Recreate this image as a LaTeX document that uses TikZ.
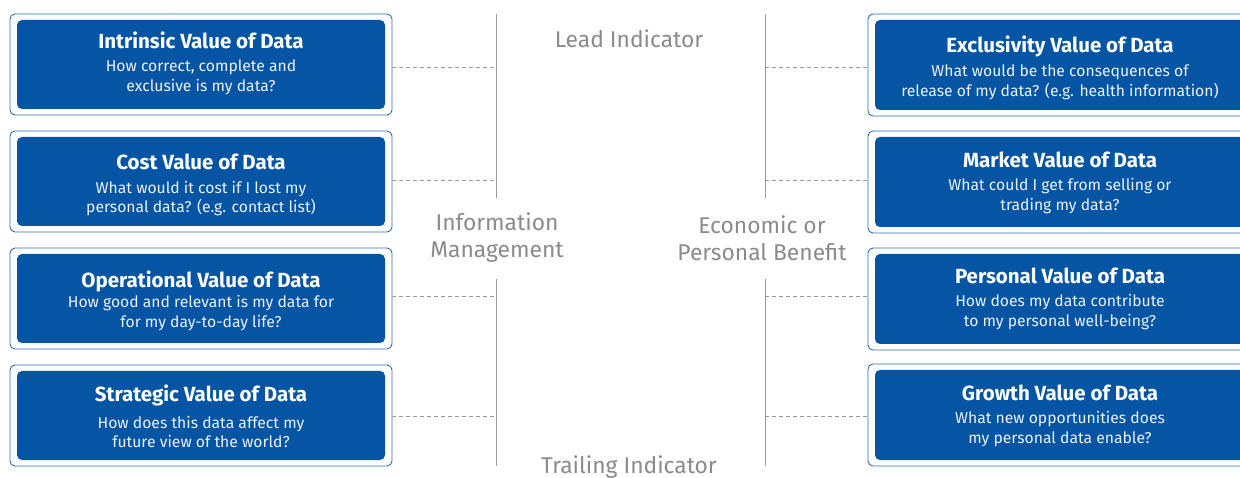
\documentclass[tikz,border=0pt]{standalone}
\usepackage{fontspec}
\setmainfont{Fira Sans}
\definecolor{boxblue}{HTML}{0654A4}
\definecolor{edgeblue}{HTML}{2E6BB6}
\definecolor{labgray}{HTML}{8A8A8F}
\definecolor{linegray}{HTML}{9A9A9A}
\begin{document}
\begin{tikzpicture}[x=1pt,y=-1pt,
  outerbox/.style={draw=edgeblue,line width=0.9pt,rounded corners=5pt,fill=white},
  innerbox/.style={fill=boxblue,rounded corners=5pt},
  ttl/.style={text=white,font=\fontsize{20.5}{23}\selectfont\bfseries,inner sep=0pt},
  sub/.style={text=white!92!boxblue,font=\fontsize{15.7}{19.8}\selectfont,align=center,inner sep=0pt},
  lab/.style={text=labgray,font=\fontsize{22.8}{27}\selectfont,align=center,inner sep=0pt},
  vline/.style={draw=linegray,line width=0.8pt},
  dashline/.style={draw=linegray,line width=0.7pt,dash pattern=on 4pt off 3pt}]
\clip (0,0) rectangle (1240,478);
\fill[white] (0,0) rectangle (1240,478);
% left column
\foreach \n/\t in {1/14,2/131,3/248,4/365}{
  \draw[outerbox] (10,\t) rectangle (392,\t+101);
  \fill[innerbox] (17,\t+6) rectangle (385,\t+95);
}
\foreach \n/\t in {1/14,2/131,3/248,4/364}{
  \draw[outerbox] (868,\t) rectangle (1260,\t+102);
  \fill[innerbox] (875,\t+6) rectangle (1253,\t+96);
}
\node[coordinate] (L1) at (392,67) {};
\node[coordinate] (L2) at (392,180) {};
\node[coordinate] (L3) at (392,296) {};
\node[coordinate] (L4) at (392,416) {};
\node[coordinate] (R1) at (868,67) {};
\node[coordinate] (R2) at (868,180) {};
\node[coordinate] (R3) at (868,296) {};
\node[coordinate] (R4) at (868,416) {};
% titles left
\node[ttl] (t1) at (201,40) {Intrinsic Value of Data};
\node[sub] (s1) at (201,77.5) {How correct, complete and\\exclusive is my data?};
\node[ttl] (t2) at (201,162) {Cost Value of Data};
\node[sub] (s2) at (201,198.5) {What would it cost if I lost my\\personal data? (e.g. contact list)};
\node[ttl] (t3) at (201,281) {Operational Value of Data};
\node[sub] (s3) at (201,313) {How good and relevant is my data for\\for my day-to-day life?};
\node[ttl] (t4) at (201,395) {Strategic Value of Data};
\node[sub] (s4) at (201,432) {How does this data affect my\\future view of the world?};
% titles right
\node[ttl] (u1) at (1060,46) {Exclusivity Value of Data};
\node[sub] (v1) at (1060,82) {What would be the consequences of\\release of my data? (e.g. health information)};
\node[ttl] (u2) at (1060,160) {Market Value of Data};
\node[sub] (v2) at (1060,196) {What could I get from selling or\\trading my data?};
\node[ttl] (u3) at (1060,276) {Personal Value of Data};
\node[sub] (v3) at (1060,312) {How does my data contribute\\to my personal well-being?};
\node[ttl] (u4) at (1060,393) {Growth Value of Data};
\node[sub] (v4) at (1060,429) {What new opportunities does\\my personal data enable?};
% vertical lines
\coordinate (A1) at (496,14); \coordinate (A2) at (496,198);
\coordinate (A3) at (496,279); \coordinate (A4) at (496,466);
\coordinate (B1) at (765,14); \coordinate (B2) at (765,198);
\coordinate (B3) at (765,279); \coordinate (B4) at (765,466);
\draw[vline] (A1) -- (A2); \draw[vline] (A3) -- (A4);
\draw[vline] (B1) -- (B2); \draw[vline] (B3) -- (B4);
\foreach \i/\y in {1/67,2/180,3/296,4/416}{
  \coordinate (PA\i) at (496,\y);
  \coordinate (PB\i) at (765,\y);
}
\draw[dashline] (L1) -- (PA1); \draw[dashline] (L2) -- (PA2);
\draw[dashline] (L3) -- (PA3); \draw[dashline] (L4) -- (PA4);
\draw[dashline] (PB1) -- (R1); \draw[dashline] (PB2) -- (R2);
\draw[dashline] (PB3) -- (R3); \draw[dashline] (PB4) -- (R4);
% labels
\node[lab] (lead) at (629,39) {Lead Indicator};
\node[lab] (trail) at (629,467) {Trailing Indicator};
\node[lab] (info) at (497,238) {Information\\Management};
\node[lab] (econ) at (762,238) {Economic or\\Personal Benefit};
\end{tikzpicture}
\end{document}
